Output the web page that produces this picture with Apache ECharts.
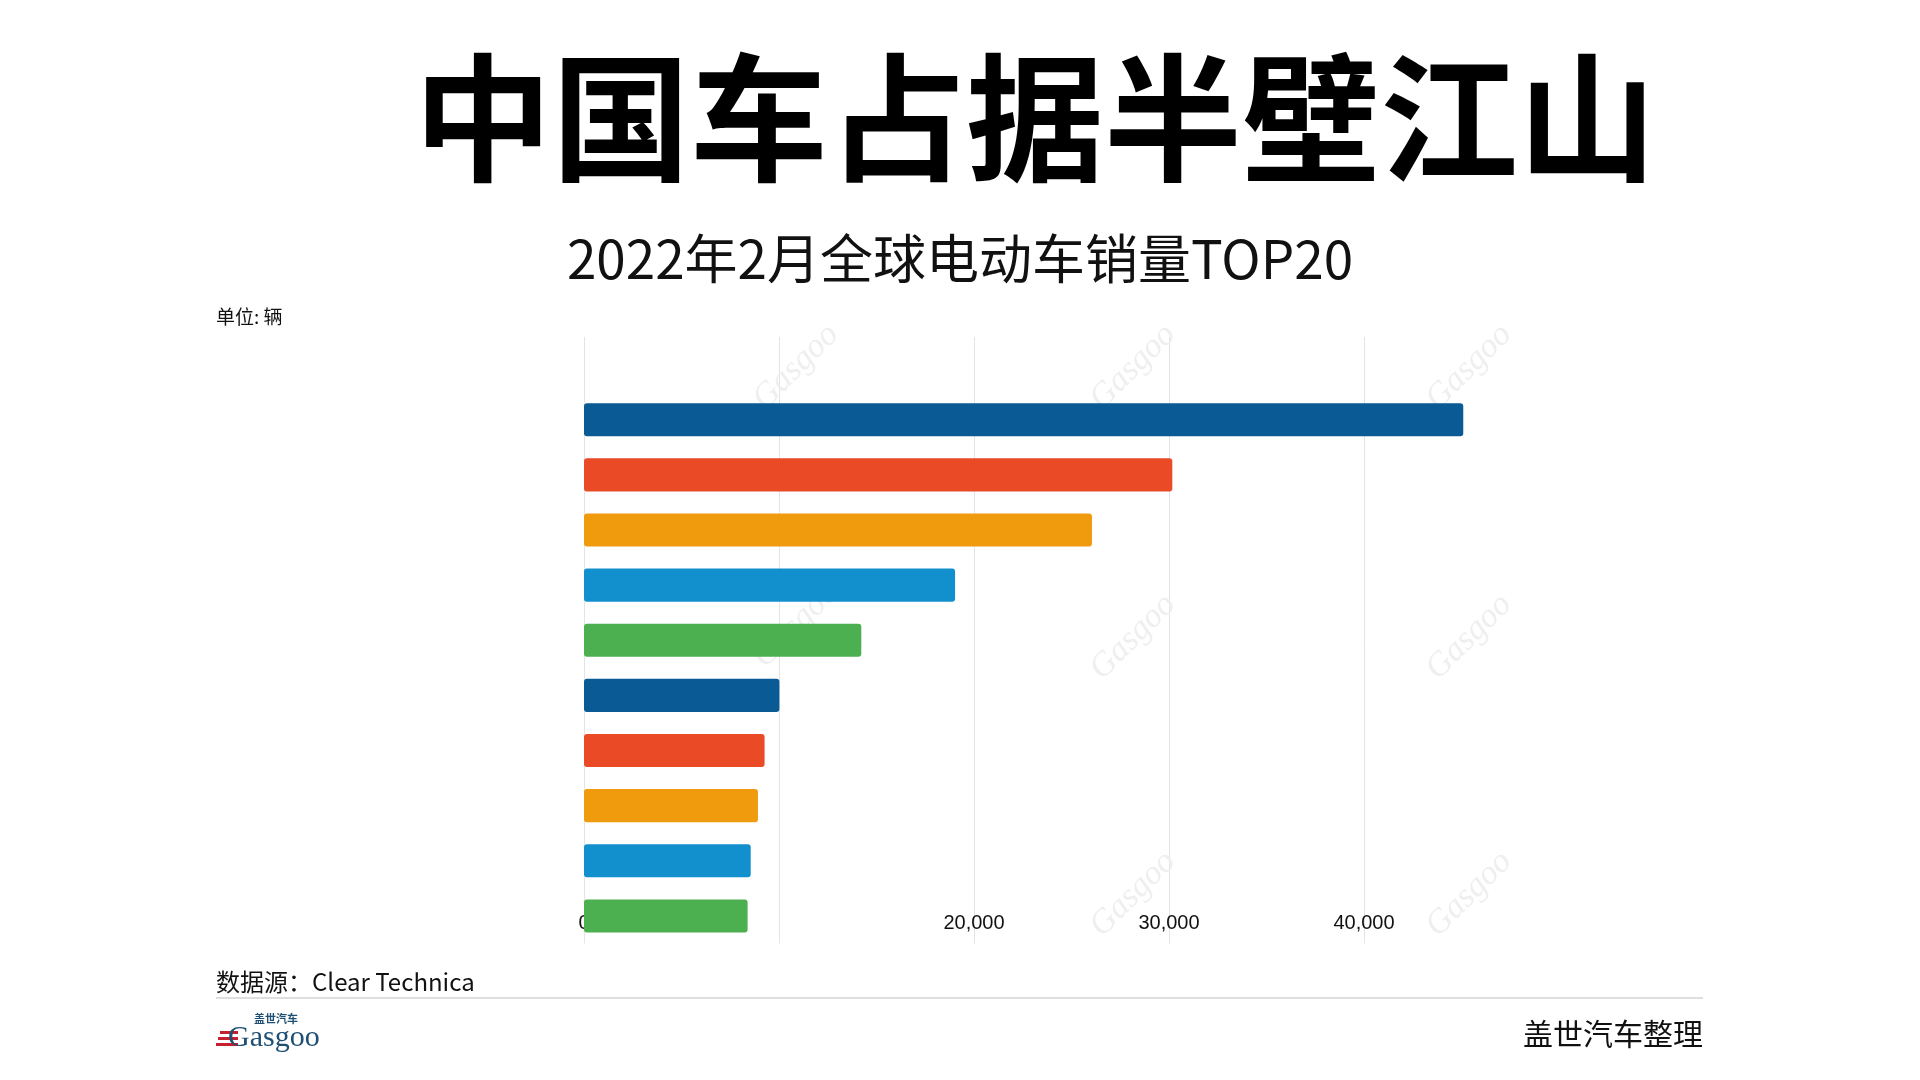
<!DOCTYPE html>
<html>
<head>
<meta charset="utf-8">
<script src="https://cdn.jsdelivr.net/npm/echarts@6/dist/echarts.min.js"></script>
<style>
html,body{margin:0;padding:0;background:#fff;}
#chart{width:1920px;height:1080px;}
</style>
</head>
<body>
<div id="chart"></div>
<script>
// Ranks (names are not shown in the reference frame)
const categories = ['1', '2', '3', '4', '5', '6', '7', '8', '9', '10'];
// Sales, units (rank order, largest first)
const salesValues = [45090, 30170, 26050, 19030, 14220, 10020, 9260, 8920, 8550, 8390];
// x-axis tick labels (10,000 label is not visible in the reference)
const xTickLabels = ['0', '', '20,000', '30,000', '40,000'];
const barColors = ['#0a5a96', '#ea4a26', '#f09a0e', '#1290ce', '#4caf50'];

const chart = echarts.init(document.getElementById('chart'));

const yCats = categories.slice().reverse();
const barData = salesValues.map((v, i) => ({
  value: v,
  itemStyle: { color: barColors[i % barColors.length] }
})).reverse();

const watermarkPos = [[796,367],[1133,367],[1469,367],[796,625],[1133,637],[1469,637],[1133,894],[1469,894]];
const watermarks = watermarkPos.map(p => ({
  type: 'text', x: p[0], y: p[1], rotation: Math.PI / 4, z: 1,
  style: { text: 'Gasgoo', fill: '#efefef', font: 'italic 34px "Liberation Serif"', align: 'center', verticalAlign: 'middle' }
}));

chart.setOption({
  animation: false,
  backgroundColor: '#ffffff',
  grid: { left: 584, top: 337, width: 936, height: 606.5, containLabel: false },
  xAxis: {
    type: 'value', min: 0, max: 48000, interval: 10000,
    axisLine: { show: false }, axisTick: { show: false },
    splitLine: { show: true, showMinLine: true, showMaxLine: false, lineStyle: { color: '#e4e4e4', width: 1 } },
    axisLabel: {
      inside: true, margin: 10, showMaxLabel: false,
      fontSize: 20, fontFamily: '"Liberation Sans", Arial, sans-serif', color: '#111',
      formatter: function (v) { const l = xTickLabels[Math.round(v / 10000)]; return l === undefined ? '' : l; }
    }
  },
  yAxis: {
    type: 'category', data: yCats, max: 10,
    axisLine: { show: false }, axisTick: { show: false }, axisLabel: { show: false }, splitLine: { show: false }
  },
  series: [{
    type: 'bar', data: barData, barCategoryGap: '40%', z: 3,
    itemStyle: { borderRadius: 3 }
  }],
  graphic: [
    ...watermarks,
    { type: 'text', x: 1035, y: 118, style: { text: '中国车占据半壁江山', fill: '#000', font: 'bold 138px "Noto Sans CJK SC"', align: 'center', verticalAlign: 'middle' } },
    { type: 'text', x: 960, y: 259, style: { text: '2022年2月全球电动车销量TOP20', fill: '#111', font: '53px "Noto Sans CJK SC"', align: 'center', verticalAlign: 'middle' } },
    { type: 'text', x: 216, y: 317, style: { text: '单位: 辆', fill: '#111', font: '19px "Noto Sans CJK SC"', align: 'left', verticalAlign: 'middle' } },
    { type: 'text', x: 216, y: 982, style: { text: '数据源：Clear Technica', fill: '#111', font: '24px "Noto Sans CJK SC"', align: 'left', verticalAlign: 'middle' } },
    { type: 'line', shape: { x1: 216, y1: 998, x2: 1703, y2: 998 }, style: { stroke: '#dedede', lineWidth: 2 } },
    { type: 'text', x: 1703, y: 1034, style: { text: '盖世汽车整理', fill: '#111', font: '30px "Noto Sans CJK SC"', align: 'right', verticalAlign: 'middle' } },
    // Gasgoo logo
    { type: 'rect', shape: { x: 220, y: 1031, width: 18, height: 3 }, style: { fill: '#c4202f' } },
    { type: 'rect', shape: { x: 218, y: 1037, width: 20, height: 3 }, style: { fill: '#c4202f' } },
    { type: 'rect', shape: { x: 216, y: 1043, width: 22, height: 3 }, style: { fill: '#c4202f' } },
    { type: 'text', x: 254, y: 1019, style: { text: '盖世汽车', fill: '#1f4f72', font: 'bold 11px "Noto Sans CJK SC"', align: 'left', verticalAlign: 'middle' } },
    { type: 'text', x: 228, y: 1038, style: { text: 'Gasgoo', fill: '#1f4f72', font: '30px "Liberation Serif"', align: 'left', verticalAlign: 'middle' } }
  ]
});
</script>
</body>
</html>
